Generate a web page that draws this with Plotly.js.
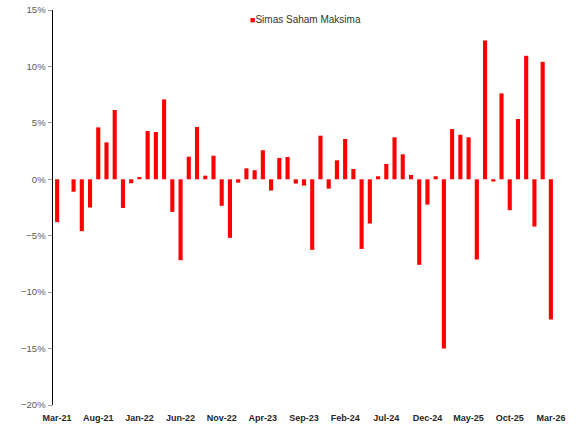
<!DOCTYPE html>
<html>
<head>
<meta charset="utf-8">
<script src="https://cdn.plot.ly/plotly-3.0.1.min.js"></script>
<style>html,body{margin:0;padding:0;background:#fff;}#chart{width:581px;height:427px;}</style>
</head>
<body>
<div id="chart"></div>
<script>
var seriesName = "Simas Saham Maksima";

var months = [
  "Mar-21","Apr-21","May-21","Jun-21","Jul-21","Aug-21","Sep-21","Oct-21","Nov-21","Dec-21",
  "Jan-22","Feb-22","Mar-22","Apr-22","May-22","Jun-22","Jul-22","Aug-22","Sep-22","Oct-22","Nov-22","Dec-22",
  "Jan-23","Feb-23","Mar-23","Apr-23","May-23","Jun-23","Jul-23","Aug-23","Sep-23","Oct-23","Nov-23","Dec-23",
  "Jan-24","Feb-24","Mar-24","Apr-24","May-24","Jun-24","Jul-24","Aug-24","Sep-24","Oct-24","Nov-24","Dec-24",
  "Jan-25","Feb-25","Mar-25","Apr-25","May-25","Jun-25","Jul-25","Aug-25","Sep-25","Oct-25","Nov-25","Dec-25",
  "Jan-26","Feb-26","Mar-26"
];

var returns = [
  -3.8, 0.0, -1.1, -4.6, -2.5, 4.6, 3.27, 6.14, -2.54, -0.35,
  0.2, 4.28, 4.19, 7.08, -2.89, -7.17, 2.0, 4.63, 0.32, 2.09, -2.35, -5.19,
  -0.3, 0.97, 0.8, 2.57, -1.0, 1.89, 1.98, -0.38, -0.56, -6.25, 3.86, -0.83,
  1.68, 3.57, 0.91, -6.17, -3.92, 0.27, 1.36, 3.72, 2.21, 0.38, -7.58, -2.24,
  0.27, -14.99, 4.45, 3.95, 3.72, -7.11, 12.3, -0.2, 7.61, -2.74, 5.34, 10.94,
  -4.19, 10.41, -12.42
];

var tickLabels = ["Mar-21","Aug-21","Jan-22","Jun-22","Nov-22","Apr-23","Sep-23","Feb-24","Jul-24","Dec-24","May-25","Oct-25","Mar-26"];

var yMin = -20, yMax = 15;

var trace = {
  type: "bar",
  x: months,
  y: returns,
  name: seriesName,
  marker: {color: "#ff0000"},
  showlegend: false,
  hoverinfo: "x+y"
};

var layout = {
  width: 581,
  height: 427,
  margin: {l: 53, r: 26, t: 10, b: 22},
  paper_bgcolor: "#ffffff",
  plot_bgcolor: "#ffffff",
  bargap: 0.5,
  showlegend: false,
  font: {family: "Liberation Sans, Arial, sans-serif", size: 9, color: "#595959"},
  xaxis: {
    type: "category",
    range: [-0.5, months.length - 0.5],
    tickmode: "array",
    tickvals: tickLabels,
    ticktext: tickLabels,
    ticks: "outside",
    ticklen: 4,
    tickcolor: "rgba(0,0,0,0)",
    showline: false,
    showgrid: false,
    zeroline: false,
    tickfont: {family: "Liberation Sans, Arial, sans-serif", size: 9, color: "#262626", weight: "bold"}
  },
  xaxis2: {
    overlaying: "x",
    anchor: "free",
    position: (0 - yMin) / (yMax - yMin),
    type: "linear",
    range: [-0.5, months.length - 0.5],
    tickmode: "linear",
    tick0: 0.5,
    dtick: 1,
    ticks: "outside",
    ticklen: 3,
    tickcolor: "#9a9a9a",
    showline: true,
    linecolor: "#000000",
    linewidth: 1.2,
    showticklabels: false,
    showgrid: false,
    zeroline: false
  },
  yaxis: {
    range: [yMin, yMax],
    tickmode: "linear",
    tick0: 0,
    dtick: 5,
    ticksuffix: "%",
    ticks: "outside",
    ticklen: 4,
    tickcolor: "#9a9a9a",
    showline: true,
    linecolor: "#000000",
    linewidth: 1.5,
    showgrid: false,
    zeroline: false,
    tickfont: {family: "Liberation Sans, Arial, sans-serif", size: 9.5, color: "#595959"}
  },
  annotations: [{
    xref: "paper", yref: "paper",
    x: 0.389, y: 0.975,
    xanchor: "left", yanchor: "middle",
    showarrow: false,
    text: '<span style="color:#ff0000;font-size:9px">■</span>' + seriesName,
    font: {family: "Liberation Sans, Arial, sans-serif", size: 10, color: "#333333"}
  }]
};

Plotly.newPlot("chart", [trace], layout, {displayModeBar: false, staticPlot: true});
</script>
</body>
</html>
